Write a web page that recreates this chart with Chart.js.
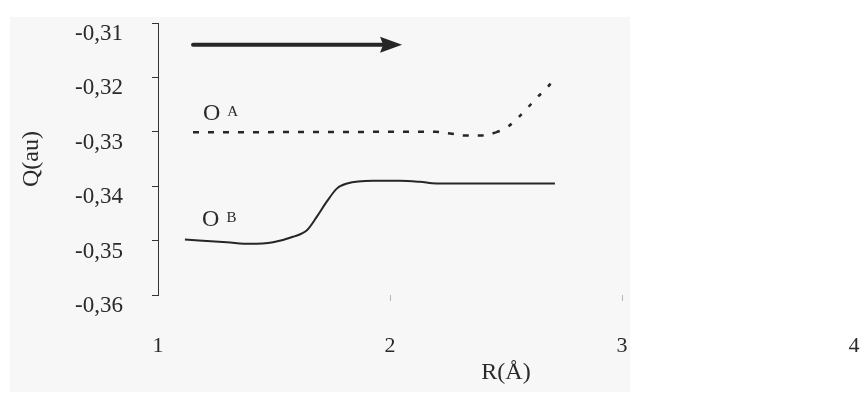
<!DOCTYPE html>
<html>
<head>
<meta charset="utf-8">
<script src="https://cdn.jsdelivr.net/npm/chart.js@4/dist/chart.umd.min.js"></script>
<style>
  html, body { margin: 0; padding: 0; background: #ffffff; }
  canvas { display: block; }
</style>
</head>
<body>
<canvas id="c" width="866" height="406"></canvas>
<script>
// Charge Q (au) of the two oxygens as a function of distance R (Å)
const rA = [1.151, 2.194, 2.259, 2.323, 2.388, 2.457, 2.504, 2.552, 2.595, 2.634, 2.677, 2.716];
const qA = [-0.3301, -0.3300, -0.3303, -0.3307, -0.3307, -0.3301, -0.3292, -0.3274, -0.3255, -0.3237, -0.3219, -0.3199];

const rB = [1.116, 1.297, 1.397, 1.496, 1.582, 1.642, 1.685, 1.728, 1.772, 1.815, 1.927, 2.043, 2.129, 2.200, 2.388, 2.711];
const qB = [-0.3498, -0.3503, -0.3506, -0.3503, -0.3493, -0.3481, -0.3456, -0.3428, -0.3404, -0.3395, -0.3390, -0.3390, -0.3392, -0.3395, -0.3395, -0.3395];

const xTicks = [1, 2, 3, 4];
const xTickLabels = ['1', '2', '3', '4'];
const yTicks = [-0.36, -0.35, -0.34, -0.33, -0.32, -0.31];
const yTickLabels = ['-0,36', '-0,35', '-0,34', '-0,33', '-0,32', '-0,31'];

const seriesLabels = [{ main: 'O', sup: 'A' }, { main: 'O', sup: 'B' }];
const labelAnchors = [{ x: 1.194, y: -0.32783 }, { x: 1.190, y: -0.34732 }];
const arrowFrom = { x: 1.151, y: -0.3140 };
const arrowTo = { x: 2.052, y: -0.3140 };

const INK = '#262626';
const TEXT = '#2a2a2a';
const SERIF = "'Liberation Serif', 'Times New Roman', serif";

// light grey paper behind the plot
const paperPlugin = {
  id: 'paper',
  beforeDraw(chart) {
    const ctx = chart.ctx;
    ctx.save();
    ctx.fillStyle = '#ffffff';
    ctx.fillRect(0, 0, chart.width, chart.height);
    ctx.fillStyle = '#f7f7f7';
    ctx.fillRect(10, 17, 620, 375);
    ctx.restore();
  }
};

// direction arrow and the O^A / O^B labels
const notesPlugin = {
  id: 'notes',
  afterDatasetsDraw(chart) {
    const { ctx, scales: { x, y } } = chart;
    ctx.save();
    const x0 = x.getPixelForValue(arrowFrom.x), y0 = y.getPixelForValue(arrowFrom.y);
    const x1 = x.getPixelForValue(arrowTo.x), y1 = y.getPixelForValue(arrowTo.y);
    const head = 22, half = 8;
    ctx.strokeStyle = INK;
    ctx.fillStyle = INK;
    ctx.lineWidth = 4;
    ctx.lineCap = 'round';
    ctx.beginPath();
    ctx.moveTo(x0, y0);
    ctx.lineTo(x1 - head + 2, y1);
    ctx.stroke();
    ctx.beginPath();
    ctx.moveTo(x1, y1);
    ctx.lineTo(x1 - head, y1 - half);
    ctx.lineTo(x1 - head + 3, y1);
    ctx.lineTo(x1 - head, y1 + half);
    ctx.closePath();
    ctx.fill();

    ctx.textBaseline = 'alphabetic';
    ctx.textAlign = 'left';
    seriesLabels.forEach((lab, i) => {
      const px = x.getPixelForValue(labelAnchors[i].x);
      const py = y.getPixelForValue(labelAnchors[i].y);
      ctx.font = '24px ' + SERIF;
      ctx.fillStyle = TEXT;
      ctx.fillText(lab.main, px, py);
      const w = ctx.measureText(lab.main).width;
      ctx.font = '15px ' + SERIF;
      ctx.fillText(lab.sup, px + w + 7, py - 4);
    });
    ctx.restore();
  }
};

const pts = (xs, ys) => xs.map((v, i) => ({ x: v, y: ys[i] }));

new Chart(document.getElementById('c'), {
  type: 'scatter',
  data: {
    datasets: [
      {
        label: 'O A',
        data: pts(rA, qA),
        showLine: true,
        borderColor: INK,
        borderWidth: 2.5,
        borderDash: [6, 9],
        segment: { borderDash: c => (c.p0.parsed.x >= 2.45 ? [4, 10] : [6, 9]) },
        pointRadius: 0,
        cubicInterpolationMode: 'monotone'
      },
      {
        label: 'O B',
        data: pts(rB, qB),
        showLine: true,
        borderColor: INK,
        borderWidth: 2,
        pointRadius: 0,
        cubicInterpolationMode: 'monotone'
      }
    ]
  },
  options: {
    responsive: false,
    animation: false,
    layout: { padding: { left: 0, top: 23, right: 12, bottom: 0 } },
    plugins: { legend: { display: false }, tooltip: { enabled: false } },
    scales: {
      x: {
        type: 'linear',
        min: 1,
        max: 4,
        afterBuildTicks: s => { s.ticks = xTicks.map(v => ({ value: v })); },
        afterFit: s => { s.height = 111; s.paddingLeft = 0; s.paddingRight = 0; },
        ticks: {
          callback: (v, i) => xTickLabels[i],
          font: { family: SERIF, size: 22 },
          color: TEXT,
          padding: 32,
          maxRotation: 0
        },
        grid: {
          drawOnChartArea: false,
          tickLength: 6,
          color: c => (c.tick && (c.tick.value === 2 || c.tick.value === 3) ? '#b5b5b5' : 'rgba(0,0,0,0)')
        },
        border: { display: false },
        title: {
          display: true,
          text: 'R(Å)',
          font: { family: SERIF, size: 24 },
          color: TEXT,
          padding: { top: 0, bottom: 19 }
        }
      },
      y: {
        min: -0.36,
        max: -0.31,
        afterBuildTicks: s => { s.ticks = yTicks.map(v => ({ value: v })); },
        afterFit: s => { s.width = 158; s.paddingTop = 0; s.paddingBottom = 0; },
        ticks: {
          callback: (v, i) => yTickLabels[i],
          font: { family: SERIF, size: 23 },
          color: TEXT,
          padding: 29,
          labelOffset: 11
        },
        grid: { drawOnChartArea: false, tickLength: 6, color: '#333333' },
        border: { display: true, color: '#333333', width: 1 },
        title: {
          display: true,
          text: 'Q(au)',
          font: { family: SERIF, size: 24 },
          color: TEXT,
          padding: { top: 17, bottom: 0 }
        }
      }
    }
  },
  plugins: [paperPlugin, notesPlugin]
});
</script>
</body>
</html>
